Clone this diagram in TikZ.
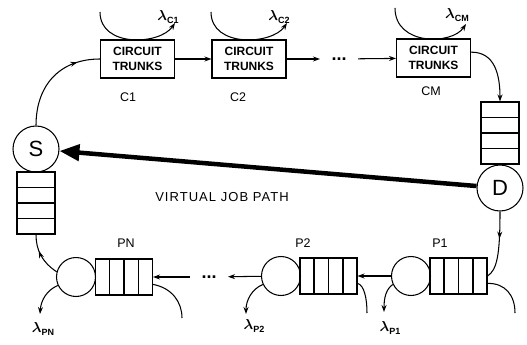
\documentclass[tikz,border=0pt]{standalone}
\usepackage{fontspec}
\setmainfont{Liberation Sans}
\usetikzlibrary{arrows.meta,decorations.markings,calc}
\newcommand{\mylam}[1]{{\boldmath$\lambda$}\raisebox{-3pt}{\fontsize{9}{9}\selectfont\bfseries #1}}
\begin{document}
\begin{tikzpicture}[x=1pt,y=-1pt, line width=1.05pt,
  trunk/.style={draw, minimum width=74pt, minimum height=38pt, inner sep=0pt, align=center, font=\fontsize{12}{15}\selectfont\bfseries},
  srv/.style={draw, circle, minimum size=46pt, inner sep=0pt, font=\fontsize{22}{22}\selectfont},
  psrv/.style={draw, circle, minimum size=39pt, inner sep=0pt},
  vq/.style={draw, minimum width=38pt, minimum height=62pt, inner sep=0pt},
  hq/.style={draw, minimum width=57pt, minimum height=36pt, inner sep=0pt},
  lab/.style={font=\fontsize{12.5}{12.5}\selectfont},
  lamlab/.style={font=\fontsize{14}{14}\selectfont, inner sep=0pt},
  dotsnode/.style={font=\fontsize{18}{18}\selectfont\bfseries, inner xsep=11pt, inner ysep=0pt},
  tip/.style={-{Stealth[length=7pt,width=5pt]}},
  midtip/.style={postaction={decorate}, decoration={markings, mark=at position #1 with {\arrow{Stealth[length=7pt,width=5pt]}}}},
]
\useasboundingbox (0,0) rectangle (527,345);

% top row
\node[trunk] (c1) at (137.5,59) {CIRCUIT\\TRUNKS};
\node[trunk] (c2) at (249,59) {CIRCUIT\\TRUNKS};
\node[dotsnode] (dots1) at (339,59) {...};
\node[trunk] (cm) at (433.5,58) {CIRCUIT\\TRUNKS};
\node[lab] (c1l) at (128,97) {C1};
\node[lab] (c2l) at (238,97) {C2};
\node[lab] (cml) at (431,91) {CM};
\draw[tip] (c1) -- (c2);
\draw[tip] (c2) -- (dots1);
\draw[tip] (dots1) -- (cm);

% feedback arcs
\coordinate (f1s) at (100,12); \coordinate (f1e) at (175,23);
\coordinate (f2s) at (211,12); \coordinate (f2e) at (287,23);
\coordinate (f3s) at (395,8);  \coordinate (f3e) at (466,24);
\draw[tip] (f1s) .. controls (100,48) and (160,45) .. (f1e);
\draw[tip] (f2s) .. controls (211,48) and (272,45) .. (f2e);
\draw[tip] (f3s) .. controls (395,46) and (452,45) .. (f3e);
\node[lamlab] (lc1) at (168,17) {\mylam{C1}};
\node[lamlab] (lc2) at (279,17) {\mylam{C2}};
\node[lamlab] (lcm) at (457,15) {\mylam{CM}};

% S and D
\node[srv] (s) at (36,149) {S};
\node[vq] (sq) at (36,203) {};
\node[vq] (dq) at (500,133) {};
\node[srv] (d) at (500,188) {D};

% bottom row
\node[psrv] (p1) at (411,276) {};
\node[hq] (p1q) at (458.5,276) {};
\node[psrv] (p2) at (281,276) {};
\node[hq] (p2q) at (328.5,276) {};
\node[dotsnode] (dots2) at (209,277) {...};
\node[psrv] (pn) at (76,277) {};
\node[hq] (pnq) at (124,277) {};
\node[lab] (p1l) at (440,243) {P1};
\node[lab] (p2l) at (303,243) {P2};
\node[lab] (pnl) at (126,243) {PN};

% queue cells
\foreach \q in {sq,dq} \foreach \f in {0.25,0.5,0.75}
  \draw ($(\q.north west)!\f!(\q.south west)$) -- ($(\q.north east)!\f!(\q.south east)$);
\foreach \q in {p1q,p2q,pnq} \foreach \f in {0.25,0.5,0.75}
  \draw ($(\q.north west)!\f!(\q.north east)$) -- ($(\q.south west)!\f!(\q.south east)$);

% main loop connectors
\draw[midtip=0.78] (s.north) .. controls (36,85) and (60,59) .. (c1.west);
\draw[tip] ($(cm.north east)!0.35!(cm.south east)$) .. controls (495,52) and (500,75) .. (dq.north);
\draw[midtip=0.4] (d.south) .. controls (500,255) and (497,270) .. (p1q.east);
\draw[tip] (p1) -- (p2q);
\draw[tip] (p2) -- (dots2);
\draw[tip] (dots2) -- (pnq);
\draw[midtip=0.62] (pn.165) .. controls (42,262) and (36,250) .. (sq.south);

% thick virtual job path
\draw[line width=4.5pt, -{Triangle[length=20pt,width=16pt]}] (d) -- (s);
\node[font=\fontsize{13}{13}\selectfont\addfontfeature{LetterSpace=8}] (vjp) at (222,197) {VIRTUAL JOB PATH};

% exit curves under queues
\coordinate (e1) at (515,313);
\coordinate (e2) at (367,313);
\coordinate (e3) at (182,318);
\draw ($(p1q.south east)!0.3!(p1q.north east)$) .. controls (505,283) and (515,295) .. (e1);
\draw ($(p2q.south east)!0.3!(p2q.north east)$) .. controls (364,285) and (367,298) .. (e2);
\draw ($(pnq.south east)!0.3!(pnq.north east)$) .. controls (172,288) and (182,302) .. (e3);

% departures
\coordinate (t1) at (384,312);
\coordinate (t2) at (246,314);
\coordinate (t3) at (40,314);
\draw[tip] (p1.205) .. controls (386,289) and (384,298) .. (t1);
\draw[tip] (p2.205) .. controls (252,289) and (246,300) .. (t2);
\draw[tip] (pn.205) .. controls (47,290) and (41,300) .. (t3);
\node[lamlab] (lp1) at (390,328) {\mylam{P1}};
\node[lamlab] (lp2) at (254,326) {\mylam{P2}};
\node[lamlab] (lpn) at (43,329) {\mylam{PN}};
\end{tikzpicture}
\end{document}
